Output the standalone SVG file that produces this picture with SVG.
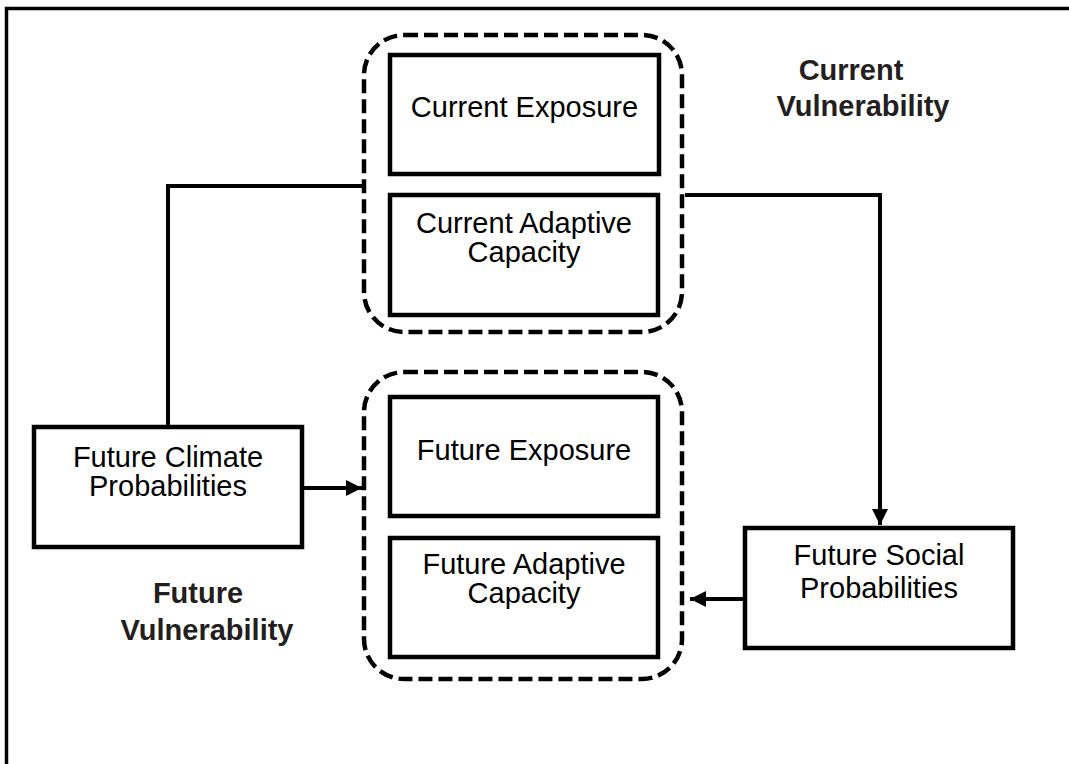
<svg xmlns="http://www.w3.org/2000/svg" width="1069" height="764" viewBox="0 0 1069 764">
  <style>
    .frame { fill: none; stroke: #000; stroke-width: 3.5; }
    .group { fill: none; stroke: #000; stroke-width: 4.5; stroke-dasharray: 14 6; }
    .box { fill: #fff; stroke: #000; stroke-width: 4.5; }
    .wire { fill: none; stroke: #000; stroke-width: 4; }
    .t { font-family: "Liberation Sans", Arial, sans-serif; font-size: 29px; fill: #000; text-anchor: middle; }
    .lbl { font-family: "Liberation Sans", Arial, sans-serif; font-size: 29px; font-weight: bold; fill: #231f20; text-anchor: middle; }
  </style>
  <defs>
    <marker id="arrow" viewBox="0 0 10 10" refX="10" refY="5" markerWidth="4" markerHeight="4" orient="auto" markerUnits="strokeWidth">
      <path d="M0,0 L10,5 L0,10 Z" fill="#000"/>
    </marker>
  </defs>

  <rect width="1069" height="764" fill="#fff"/>
  <polyline class="frame" points="6.5,764 6.5,8.5 1069,8.5"/>

  <g id="connectors">
    <polyline class="wire" points="168,427 168,186 362,186"/>
    <line class="wire" x1="302" y1="488" x2="362" y2="488" marker-end="url(#arrow)"/>
    <polyline class="wire" points="685,195 880,195 880,525" marker-end="url(#arrow)"/>
    <line class="wire" x1="745" y1="599" x2="690" y2="599" marker-end="url(#arrow)"/>
  </g>

  <g id="current-vulnerability">
    <rect class="group" x="364" y="35" width="318" height="297" rx="40"/>
    <text class="lbl" x="851" y="80">Current</text>
    <text class="lbl" x="863" y="116">Vulnerability</text>
  </g>

  <g id="current-exposure">
    <rect class="box" x="390" y="55" width="269" height="119"/>
    <text class="t" x="524.5" y="117">Current Exposure</text>
  </g>

  <g id="current-adaptive-capacity">
    <rect class="box" x="390" y="195" width="268" height="120"/>
    <text class="t" x="524" y="233">Current Adaptive</text>
    <text class="t" x="524" y="262">Capacity</text>
  </g>

  <g id="future-vulnerability">
    <rect class="group" x="364" y="372" width="318" height="307" rx="40"/>
    <text class="lbl" x="198" y="603">Future</text>
    <text class="lbl" x="207" y="640">Vulnerability</text>
  </g>

  <g id="future-exposure">
    <rect class="box" x="390" y="397" width="268" height="119"/>
    <text class="t" x="524" y="460">Future Exposure</text>
  </g>

  <g id="future-adaptive-capacity">
    <rect class="box" x="390" y="538" width="268" height="119"/>
    <text class="t" x="524" y="574">Future Adaptive</text>
    <text class="t" x="524" y="603">Capacity</text>
  </g>

  <g id="future-climate-probabilities">
    <rect class="box" x="34" y="427" width="268" height="120"/>
    <text class="t" x="168" y="467">Future Climate</text>
    <text class="t" x="168" y="496">Probabilities</text>
  </g>

  <g id="future-social-probabilities">
    <rect class="box" x="745" y="528" width="268" height="120"/>
    <text class="t" x="879" y="565">Future Social</text>
    <text class="t" x="879" y="598">Probabilities</text>
  </g>
</svg>
